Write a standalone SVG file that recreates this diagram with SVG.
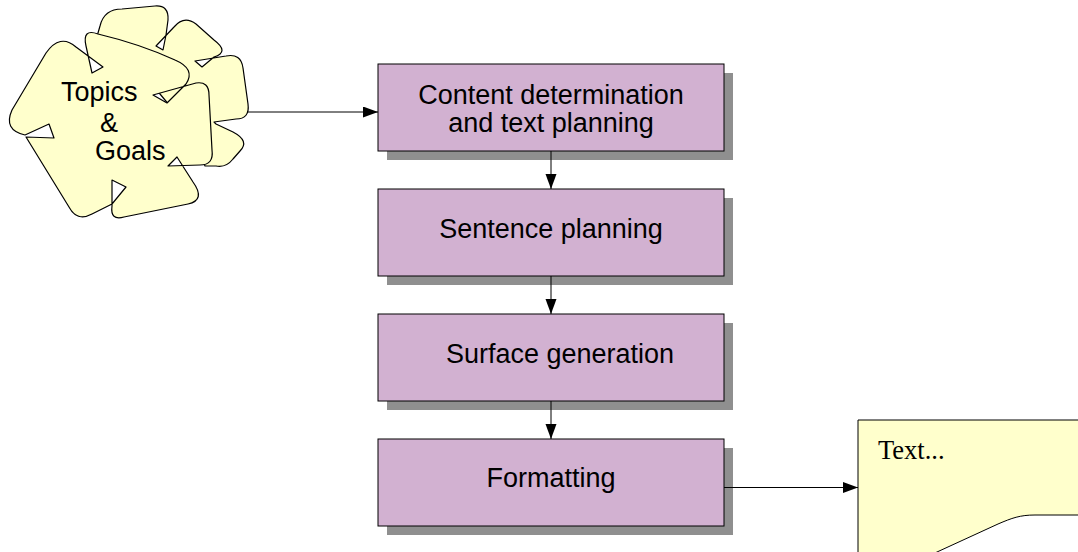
<svg xmlns="http://www.w3.org/2000/svg" width="1078" height="552" viewBox="0 0 1078 552">
<style>
.shadow{fill:#8f8f8f;stroke:none}
.box{fill:#d2b1d1;stroke:#000;stroke-width:1}
.lbl{font-family:"Liberation Sans",Arial,sans-serif;font-size:27px;fill:#000}
.cloud{fill:#ffffcc;stroke:#000;stroke-width:1.2;fill-rule:evenodd;stroke-linejoin:round}
.conn{stroke:#000;stroke-width:1;fill:none}
</style>
<defs>
<marker id="ah" markerUnits="userSpaceOnUse" markerWidth="16" markerHeight="12" refX="15" refY="5.5" orient="auto">
<path d="M0,0 L15,5.5 L0,11 Z" fill="#000"/>
</marker>
</defs>
<rect width="1078" height="552" fill="#fff"/>

<g id="topics-goals">
<path class="cloud" d="M96,40 L100,26 Q104,9 122,9 L155,6 Q169,5 168,20 L166,35 L163,50 L156,46 L174,27 Q184,15 196,24 L214,40 Q230,52 214,57 L202,67 L195,61 L226,56 Q241,53 243,68 L248,104 Q250,119 236,119 L214,122 L216,124 L233,132 Q250,141 240,151 L233,159 Q226,168 216,166 L205,166 L190,130 L140,70 Z"/>
<path class="cloud" d="M98,34 Q140,44 175,60 Q196,69 186,84 L167,103 L153,95 L196,83 Q209,81 209,95 L212,150 Q214,165 200,165 L168,166 L177,157 L193,182 Q206,200 188,204 L124,217 Q110,221 112,206 L112,180 L126,187 L112,204 L92,214 Q77,222 69,207 L26,137 L54,138 L49,124 L25,135 Q3,130 12,110 L46,53 Q60,33 76,47 L103,67 L92,73 L86,46 Q82,28 98,34 Z"/>
<text class="lbl" x="61" y="101" font-size="26">Topics</text>
<text class="lbl" x="100" y="132" font-size="26">&amp;</text>
<text class="lbl" x="95" y="160" font-size="26">Goals</text>
</g>

<g id="content-determination">
<rect class="shadow" x="387" y="73" width="346" height="87"/>
<rect class="box" x="378" y="64" width="346" height="87"/>
<text class="lbl" x="551" y="104" text-anchor="middle">Content determination</text>
<text class="lbl" x="551" y="132" text-anchor="middle">and text planning</text>
</g>

<g id="sentence-planning">
<rect class="shadow" x="387" y="198" width="346" height="87"/>
<rect class="box" x="378" y="189" width="346" height="87"/>
<text class="lbl" x="551" y="238" text-anchor="middle">Sentence planning</text>
</g>

<g id="surface-generation">
<rect class="shadow" x="387" y="323" width="346" height="87"/>
<rect class="box" x="378" y="314" width="346" height="87"/>
<text class="lbl" x="560" y="363" text-anchor="middle">Surface generation</text>
</g>

<g id="formatting">
<rect class="shadow" x="387" y="448" width="346" height="87"/>
<rect class="box" x="378" y="439" width="346" height="87"/>
<text class="lbl" x="551" y="487" text-anchor="middle">Formatting</text>
</g>

<g id="text-document">
<path d="M858,560 L858,420 L1090,420 L1090,515 L1035,515 C1020,515 1012,518 998,524 L937,552 L920,560 Z" fill="#ffffcc" stroke="#000" stroke-width="1"/>
<text x="878" y="459" font-family="'Liberation Serif','Times New Roman',serif" font-size="26.5" fill="#000">Text...</text>
</g>

<g id="connectors">
<line class="conn" x1="247" y1="112" x2="378" y2="112" marker-end="url(#ah)"/>
<line class="conn" x1="551" y1="151" x2="551" y2="189" marker-end="url(#ah)"/>
<line class="conn" x1="551" y1="276" x2="551" y2="314" marker-end="url(#ah)"/>
<line class="conn" x1="551" y1="401" x2="551" y2="439" marker-end="url(#ah)"/>
<line class="conn" x1="724" y1="487.5" x2="858" y2="487.5" marker-end="url(#ah)"/>
</g>
</svg>
